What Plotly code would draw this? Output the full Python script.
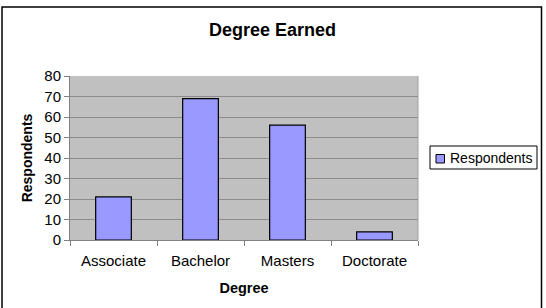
import plotly.graph_objects as go

categories = ["Associate", "Bachelor", "Masters", "Doctorate"]
respondents = [21, 69, 56, 4]
y_ticks = [0, 10, 20, 30, 40, 50, 60, 70, 80]
series_name = "Respondents"
bar_color = "#9999FF"

W, H = 546, 308
L, R, T, B = 70, 418, 76, 240  # plot area pixel box

def px(x):
    return (x - L) / (R - L)

def py(y):
    return (B - y) / (B - T)

fig = go.Figure()
fig.add_trace(go.Bar(
    x=categories, y=respondents, name=series_name,
    marker=dict(color=bar_color, line=dict(color="#000000", width=1.2)),
    width=0.41, showlegend=False,
))

fig.update_layout(
    width=W, height=H,
    margin=dict(l=L, r=W - R, t=T, b=H - B, pad=0, autoexpand=False),
    paper_bgcolor="white",
    plot_bgcolor="#C0C0C0",
    font=dict(family="Liberation Sans, Arial, sans-serif", size=15, color="#000000"),
    showlegend=False,
    xaxis=dict(
        showgrid=False, showline=True, linecolor="#808080", linewidth=1,
        ticks="outside", ticklen=5, tickcolor="#808080", tickson="boundaries",
        tickfont=dict(size=15), ticklabelstandoff=7,
        title=dict(text="<b>Degree</b>", font=dict(size=14.5), standoff=14),
    ),
    yaxis=dict(
        range=[0, 80], tickvals=y_ticks, showgrid=True, gridcolor="#8C8C8C", gridwidth=1,
        showline=True, linecolor="#808080", linewidth=1, zeroline=False,
        ticks="outside", ticklen=5, tickcolor="#808080",
        tickfont=dict(size=15),
        title=dict(text="<b>Respondents</b>", font=dict(size=14), standoff=8),
    ),
    shapes=[
        dict(type="rect", xref="paper", yref="paper",
             x0=px(2), x1=px(541.5), y0=py(315), y1=py(7),
             line=dict(color="#000000", width=1.5), fillcolor="rgba(0,0,0,0)", layer="below"),
        dict(type="line", xref="paper", yref="paper", x0=1, x1=1, y0=0, y1=1,
             line=dict(color="#A0A0A0", width=1)),
        # legend box
        dict(type="rect", xref="paper", yref="paper",
             x0=px(430), x1=px(537), y0=py(169), y1=py(146),
             line=dict(color="#000000", width=1), fillcolor="white"),
        dict(type="rect", xref="paper", yref="paper",
             x0=px(436), x1=px(444.5), y0=py(163), y1=py(154.5),
             line=dict(color="#000000", width=1), fillcolor=bar_color),
    ],
    annotations=[
        dict(text="<b>Degree Earned</b>", xref="paper", yref="paper",
             x=px(272), y=py(30), xanchor="center", yanchor="middle",
             showarrow=False, font=dict(size=18)),
        dict(text=series_name, xref="paper", yref="paper",
             x=px(448), y=py(158), xanchor="left", yanchor="middle",
             showarrow=False, font=dict(size=14)),
    ],
)

fig.write_html("out.html")
